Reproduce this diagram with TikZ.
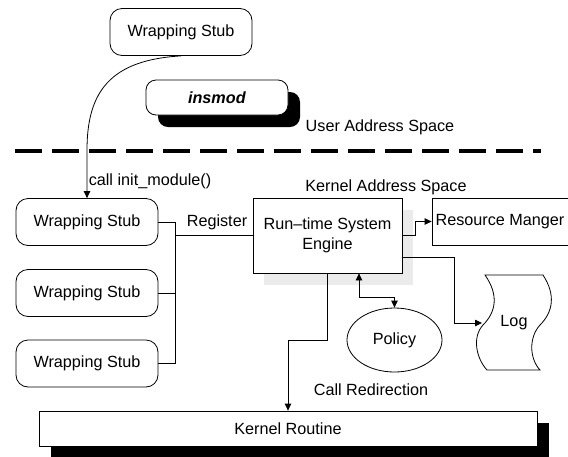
\documentclass[tikz,border=0pt]{standalone}
\usepackage{fontspec}
\setmainfont{Liberation Sans}
\usetikzlibrary{arrows.meta,shapes.geometric,shadows,calc}

\begin{document}
\begin{tikzpicture}[x=1pt,y=-1pt,
  font=\fontsize{16.2}{19}\selectfont,
  line width=0.8pt,
  stubbox/.style={draw, rounded corners=12pt, minimum width=142pt, minimum height=47pt, inner sep=0pt},
  plainbox/.style={draw, fill=white, inner sep=0pt},
  blackshadow/.style={drop shadow={shadow xshift=12pt, shadow yshift=-12pt, fill=black, opacity=1}},
  greyshadow/.style={drop shadow={shadow xshift=11pt, shadow yshift=-11.5pt, fill=black!8, opacity=1}},
  tag/.style={inner sep=0pt},
  arr/.style={-{Triangle[length=7pt,width=6.5pt]}},
  arrboth/.style={{Triangle[length=7pt,width=6.5pt]}-{Triangle[length=7pt,width=6.5pt]}}
]
\clip (0,0) rectangle (568,456);

% ---- user space ----
\node[stubbox] (top) at (181,32) {Wrapping Stub};
\node[plainbox, rounded corners=10pt, minimum width=142pt, minimum height=35pt, blackshadow]
  (insmod) at (217,97.5) {\textbf{\textit{insmod}}};
\node[tag] (userlbl) at (380,127) {User Address Space};

% divider between user and kernel space
\coordinate (divL) at (15,151);
\coordinate (divR) at (541,151);
\draw[line width=3.5pt, dash pattern=on 27pt off 10pt] (divL) -- (divR);

% ---- kernel space ----
\node[tag] (kernlbl) at (386,187) {Kernel Address Space};

\node[stubbox] (s1) at (87,222) {Wrapping Stub};
\node[stubbox] (s2) at (87,293) {Wrapping Stub};
\node[stubbox] (s3) at (87,363.5) {Wrapping Stub};

\node[plainbox, minimum width=149pt, minimum height=75pt, greyshadow, align=center]
  (engine) at (327.5,235.5) {Run–time System\\[1pt]Engine};

\node[plainbox, minimum width=136pt, minimum height=47pt] (res) at (500,221.5) {Resource Manger};

\node[draw, ellipse, minimum width=95pt, minimum height=64pt, inner sep=0pt] (policy) at (394.5,340) {Policy};

% log document with wavy sides
\draw (485,275) -- (543,275)
  .. controls (556,295) and (553,312) .. (540,325)
  .. controls (529,337) and (529,358) .. (540,370)
  -- (487,370)
  .. controls (476,358) and (472,337) .. (483,325)
  .. controls (496,312) and (499,295) .. (485,275) -- cycle;
\node[tag] (log) at (514,323) {Log};
\coordinate (login) at (482,323);

\node[plainbox, minimum width=498pt, minimum height=35pt, blackshadow] (kr) at (288,428.5) {Kernel Routine};

% ---- connectors ----
\coordinate (bend) at (s1.north |- 0,150);
\draw[arr] (top.south) .. controls (110,60) and (s1.north |- 0,92) .. (bend) -- (s1.north);
\node[tag] (calllbl) at (150,181) {call init\_module()};

\coordinate (bus1) at ($(s1.east)+(17,0)$);
\draw (s1.east) -- (bus1) |- (s3.east);
\draw (s2.east) -- (s2.east -| bus1);
\draw (engine.west) -- (engine.west -| bus1);
\node[tag] (reglbl) at (217,222) {Register};

\draw[arr] (engine.east) -- ++(13,0) |- (res.west);

\coordinate (e2) at ($(engine.east)+(0,21.5)$);
\coordinate (lt) at ($(e2)+(52,0)$);
\draw[arr] (e2) -- (lt) |- (login);

\coordinate (ep) at ($(engine.south)+(31.5,0)$);
\coordinate (pturn) at ($(policy.north)+(0,-10)$);
\draw[arrboth] (ep) |- (pturn) -- (policy.north);

\coordinate (cr) at (kr.north |- policy.center);
\draw[arr] (engine.south) |- (cr) -- (kr.north);
\node[tag] (crlbl) at (371,390) {Call Redirection};
\end{tikzpicture}
\end{document}
